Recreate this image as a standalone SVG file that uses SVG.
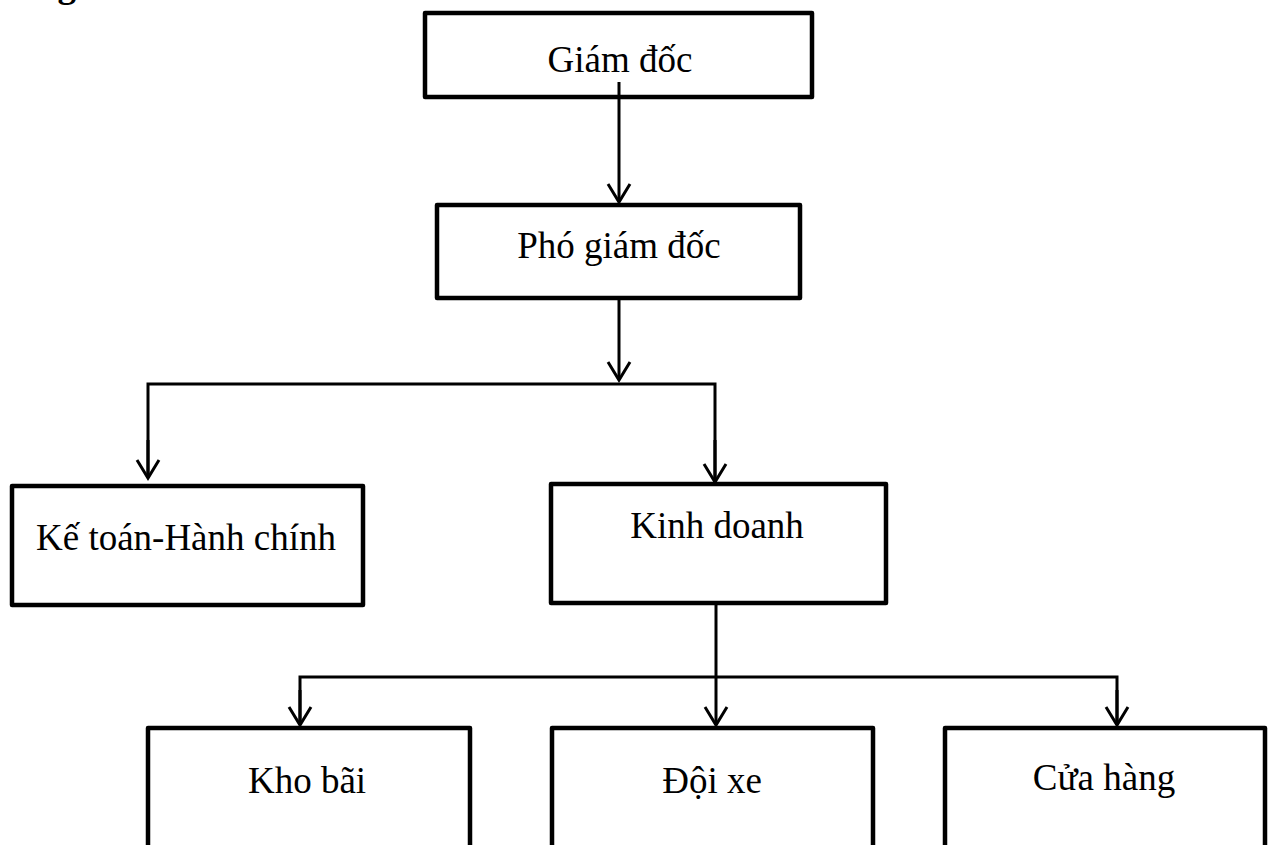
<svg xmlns="http://www.w3.org/2000/svg" width="1272" height="845" viewBox="0 0 1272 845">
<defs>
<style>
.box{fill:#fff;stroke:#000;stroke-width:4.5;stroke-linejoin:round}
.lbl{font-family:"Liberation Serif","Times New Roman",serif;font-size:37px;fill:#000;text-anchor:middle}
.con{fill:none;stroke:#000;stroke-width:3}
</style>
<marker id="arr" markerUnits="userSpaceOnUse" markerWidth="40" markerHeight="40" refX="0" refY="0" orient="auto" overflow="visible" viewBox="-20 -20 40 40">
<path d="M-18,-11 L0,0 L-18,11" fill="none" stroke="#000" stroke-width="3"/>
</marker>
</defs>
<rect width="1272" height="845" fill="#fff"/>
<text x="37" y="-3" style="font-family:'Liberation Serif',serif;font-size:37px;font-weight:bold">ng</text>
<g id="n-giamdoc"><rect class="box" x="425" y="13" width="387" height="84"/><text class="lbl" x="620" y="72">Giám đốc</text></g>
<g id="n-phogiamdoc"><rect class="box" x="437" y="205" width="363" height="93"/><text class="lbl" x="619" y="258">Phó giám đốc</text></g>
<g id="n-ketoan"><rect class="box" x="12" y="486" width="351" height="119"/><text class="lbl" x="186" y="550">Kế toán-Hành chính</text></g>
<g id="n-kinhdoanh"><rect class="box" x="551" y="484" width="335" height="119"/><text class="lbl" x="717" y="538">Kinh doanh</text></g>
<g id="n-khobai"><rect class="box" x="148" y="728" width="322" height="200"/><text class="lbl" x="307" y="793">Kho bãi</text></g>
<g id="n-doixe"><rect class="box" x="552" y="728" width="321" height="200"/><text class="lbl" x="712" y="793">Đội xe</text></g>
<g id="n-cuahang"><rect class="box" x="945" y="728" width="320" height="200"/><text class="lbl" x="1104" y="790">Cửa hàng</text></g>
<g id="connectors">
<line class="con" x1="619" y1="82" x2="619" y2="202" marker-end="url(#arr)"/>
<line class="con" x1="619" y1="298" x2="619" y2="380" marker-end="url(#arr)"/>
<polyline class="con" points="148,478 148,384 715,384 715,482"/>
<line class="con" x1="148" y1="440" x2="148" y2="478" marker-end="url(#arr)"/>
<line class="con" x1="715" y1="440" x2="715" y2="482" marker-end="url(#arr)"/>
<line class="con" x1="716" y1="603" x2="716" y2="725" marker-end="url(#arr)"/>
<polyline class="con" points="300,725 300,677 1117,677 1117,725"/>
<line class="con" x1="300" y1="690" x2="300" y2="725" marker-end="url(#arr)"/>
<line class="con" x1="1117" y1="690" x2="1117" y2="725" marker-end="url(#arr)"/>
</g>
</svg>
